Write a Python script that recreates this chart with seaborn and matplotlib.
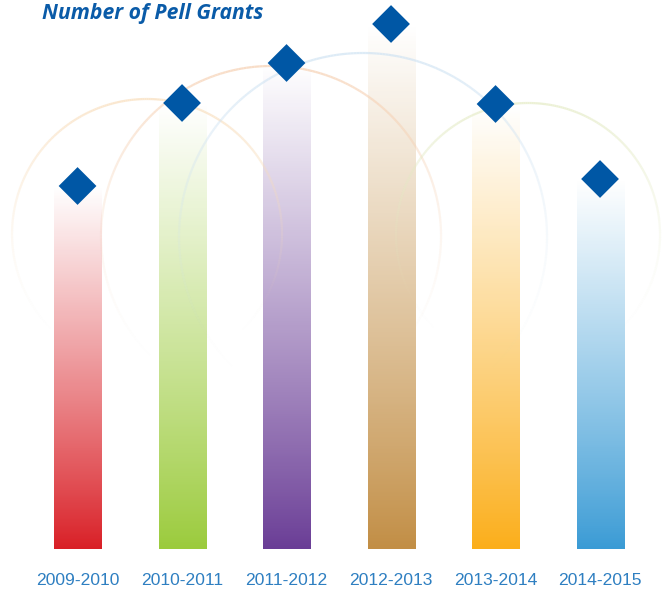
import numpy as np
import pandas as pd
import matplotlib.pyplot as plt
import seaborn as sns
from matplotlib.colors import LinearSegmentedColormap, to_rgb
from matplotlib.collections import LineCollection

sns.set_theme(style="white")

# data (bar heights, no axis is shown)
years = ['2009-2010', '2010-2011', '2011-2012', '2012-2013', '2013-2014', '2014-2015']
grants = [363, 446, 486, 525, 445, 370]
bar_colors = ['#D91F26', '#9BCB3C', '#6A3D96', '#C28E45', '#FBAE1A', '#3A9BD5']

# faint decorative rings behind the bars: (x pixel, y pixel, radius, colour)
rings = [(147, 234, 135, '#F9DDBA'),
         (271, 236, 170, '#F6CFB0'),
         (363, 237, 184, '#CFE3F3'),
         (528, 235, 132, '#E4EBC4')]

df = pd.DataFrame({'year': years, 'grants': grants})

fig = plt.figure(figsize=(6.62, 5.93), dpi=100)
ax = fig.add_axes([0, 44 / 593, 1, 549 / 593])

sns.barplot(x='year', y='grants', data=df, hue='year', palette=bar_colors,
            width=0.45, legend=False, ax=ax, zorder=2)

ax.set_xlim(-0.742, 5.593)
ax.set_ylim(0, 549)

# swap flat fills for a colour -> white vertical gradient
for patch, c in zip(ax.patches, bar_colors):
    x0 = patch.get_x()
    w = patch.get_width()
    h = patch.get_height()
    cmap = LinearSegmentedColormap.from_list('g', [to_rgb(c), (1, 1, 1)])
    grad = np.linspace(0, 1, 256) ** 0.9
    im = ax.imshow(grad.reshape(-1, 1), cmap=cmap, vmin=0, vmax=1, origin='lower',
                   extent=[x0, x0 + w, 0, h], aspect='auto', zorder=2)
    im.set_clip_path(patch)
    patch.set_facecolor('none')
    patch.set_edgecolor('none')

# rings fading out towards the bottom (pixel -> data units)
t = np.linspace(0, 2 * np.pi, 400)
for px, py, r, c in rings:
    xs = (px + r * np.cos(t) - 77.5) / 104.5
    ys = 549 - py + r * np.sin(t)
    pts = np.column_stack([xs, ys]).reshape(-1, 1, 2)
    segs = np.concatenate([pts[:-1], pts[1:]], axis=1)
    rel = np.sin((t[:-1] + t[1:]) / 2)  # +1 top, -1 bottom
    alpha = np.clip((rel + 0.75) / 1.75, 0, 1) ** 1.6 * 0.7
    cols = np.zeros((len(segs), 4))
    cols[:, :3] = to_rgb(c)
    cols[:, 3] = alpha
    ax.add_collection(LineCollection(segs, colors=cols, linewidths=1.6, zorder=2.5))

sns.scatterplot(x='year', y='grants', data=df, marker='D', s=370,
                color='#0057A5', edgecolor='none', ax=ax, zorder=3, legend=False)

ax.set_xlim(-0.742, 5.593)
ax.set_ylim(0, 549)
ax.set_xlabel('')
ax.set_ylabel('')
ax.set_yticks([])
ax.tick_params(axis='x', length=0, pad=17, labelsize=12.6, labelcolor='#2E7FC1')
for lab in ax.get_xticklabels():
    lab.set_family(['Liberation Sans Narrow', 'Liberation Sans', 'DejaVu Sans'])
sns.despine(ax=ax, left=True, bottom=True, top=True, right=True)

fig.text(42 / 662, 1 - 14 / 593, 'Number of Pell Grants', ha='left', va='center',
         fontsize=15.2, fontweight='bold', fontstyle='italic', color='#0A5BA8',
         family=['Open Sans', 'DejaVu Sans'])

fig.savefig('out.png', dpi=100)
